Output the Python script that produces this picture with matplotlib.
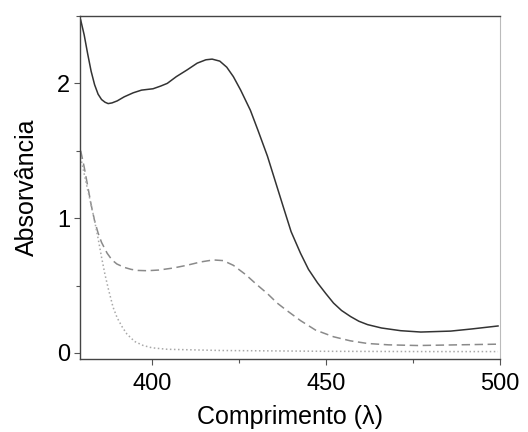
import matplotlib
matplotlib.use("Agg")
import matplotlib.pyplot as plt
from matplotlib.ticker import MultipleLocator

plt.rcParams['font.family'] = ['Liberation Sans', 'DejaVu Sans']

# wavelength (nm) and absorbance
wl_solid = [379.5, 380.5, 381.5, 382.5, 383.5, 384.5, 385.5, 386.5, 387.4, 388.5,
            390, 392, 394.6, 397, 400.3, 402.5, 404.4, 407, 410.1, 413, 415.5,
            417.3, 419.5, 421.5, 423.4, 425.5, 428.3, 430.5, 433.2, 435.5,
            437.8, 440, 442.7, 445, 447.6, 450, 452.2, 454.5, 457.1, 459.5,
            462.0, 466, 471.5, 477.3, 485.9, 492, 499.5]
abs_solid = [2.47, 2.36, 2.22, 2.09, 1.99, 1.92, 1.88, 1.86, 1.85, 1.855,
             1.87, 1.90, 1.93, 1.95, 1.96, 1.98, 2.00, 2.05, 2.10, 2.15, 2.175,
             2.18, 2.165, 2.12, 2.05, 1.95, 1.80, 1.65, 1.46, 1.27,
             1.08, 0.90, 0.74, 0.62, 0.52, 0.44, 0.37, 0.315, 0.27, 0.235,
             0.21, 0.185, 0.165, 0.155, 0.162, 0.178, 0.20]

wl_dash = [379.5, 380.5, 381.5, 382.5, 383.5, 384.5, 385.5, 387.1, 388.5,
           389.9, 392, 394, 396, 398.6, 402, 406.1, 410, 414, 417.6, 420.5,
           423.4, 427, 430, 433.2, 436, 438.5, 442.7, 447, 452.2, 457, 462.0,
           468, 476.4, 488, 499.5]
abs_dash = [1.50, 1.38, 1.24, 1.10, 0.98, 0.89, 0.82, 0.74, 0.69,
            0.66, 0.635, 0.62, 0.612, 0.61, 0.615, 0.63, 0.65, 0.675, 0.69,
            0.685, 0.65, 0.58, 0.51, 0.44, 0.37, 0.32, 0.24, 0.17, 0.12,
            0.09, 0.07, 0.06, 0.055, 0.06, 0.065]

wl_dot = [379.5, 380.5, 381.5, 382.5, 383.5, 384.5, 385.5, 386.5, 387.5,
          388.8, 390, 391.5, 392.8, 395, 397.5, 400, 404.4, 420, 450, 480,
          499.5]
abs_dot = [1.45, 1.33, 1.21, 1.10, 0.98, 0.85, 0.71, 0.58, 0.47,
           0.34, 0.26, 0.19, 0.14, 0.085, 0.055, 0.038, 0.027, 0.018, 0.012,
           0.01, 0.01]

fig = plt.figure(figsize=(5.28, 4.32), dpi=100)
ax = fig.add_axes([0.1515, 0.169, 0.795, 0.794])

ax.plot(wl_solid, abs_solid, '-', color='#333333', lw=1.1)
ax.plot(wl_dash, abs_dash, '--', color='#8a8a8a', lw=1.1, dashes=(5.5, 3))
ax.plot(wl_dot, abs_dot, ':', color='#a8a8a8', lw=1.1)

ax.set_xlim(379.3, 500)
ax.set_ylim(-0.045, 2.5)
ax.xaxis.set_major_locator(MultipleLocator(50))
ax.xaxis.set_minor_locator(MultipleLocator(25))
ax.yaxis.set_major_locator(MultipleLocator(1))
ax.yaxis.set_minor_locator(MultipleLocator(0.5))
ax.tick_params(which='both', direction='out', color='#555555', width=0.8)
ax.tick_params(which='major', length=4, labelsize=17)
ax.tick_params(axis='x', which='major', pad=6)
ax.tick_params(axis='y', which='major', pad=3)
ax.tick_params(which='minor', length=3)

for s in ['left', 'bottom', 'top']:
    ax.spines[s].set_color('#444444')
    ax.spines[s].set_linewidth(1.0)
ax.spines['right'].set_color('#bbbbbb')

ax.set_xlabel('Comprimento (λ)', fontsize=18, labelpad=7)
ax.set_ylabel('Absorvância', fontsize=18, labelpad=13)

fig.savefig('out.png', dpi=100)
